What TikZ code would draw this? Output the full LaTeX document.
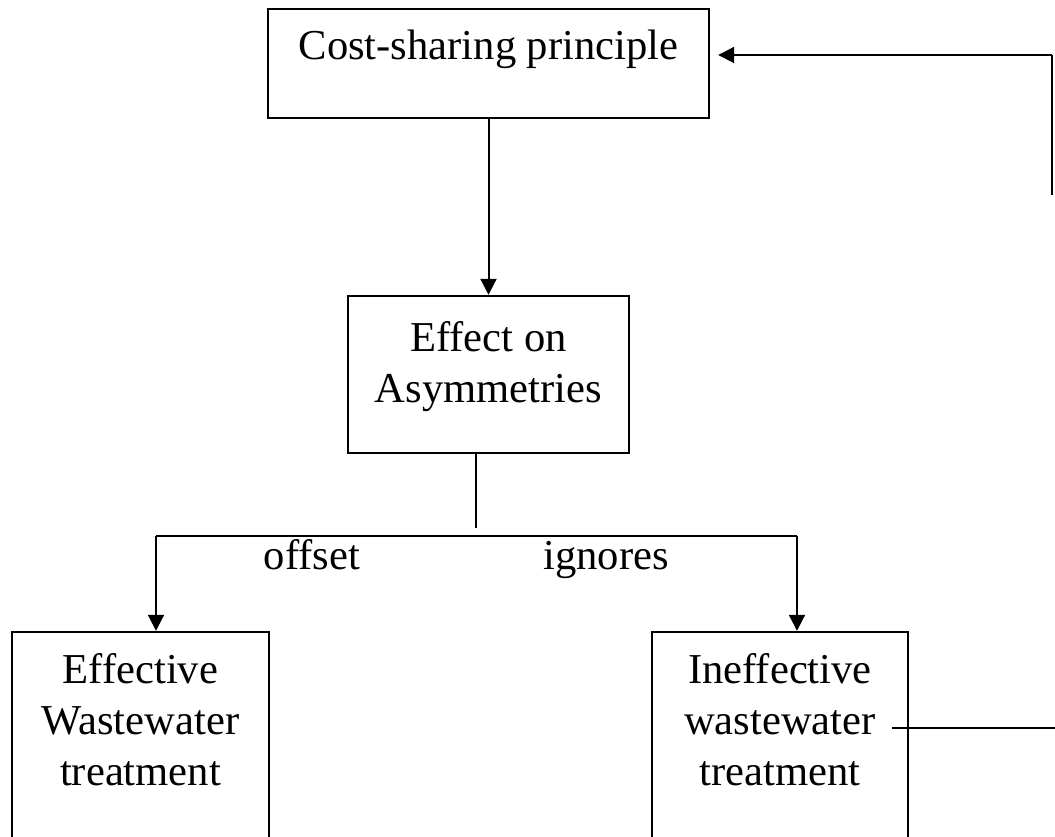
\documentclass[tikz,border=0pt]{standalone}
\usepackage{fontspec}
\setmainfont{Liberation Serif}
\usetikzlibrary{arrows.meta,calc}

\begin{document}
\begin{tikzpicture}[x=1pt,y=-1pt,
  box/.style={draw=black,line width=2.4pt,rectangle,inner sep=0pt},
  txt/.style={font=\fontsize{42.6}{51}\selectfont,align=center,anchor=base,inner sep=0pt},
  conn/.style={draw=black,line width=2pt},
  arr/.style={conn,-{Triangle[length=16pt,width=16pt]}}]
\useasboundingbox (0,0) rectangle (1055,837);
\clip (0,0) rectangle (1055,837);

% boxes
\node[box,minimum width=441pt,minimum height=109pt] (cost) at (488.5,63.5) {};
\node[box,minimum width=281pt,minimum height=157pt] (asym) at (488.5,374.5) {};
\node[box,minimum width=257pt,minimum height=268pt] (eff) at (140.5,766) {};
\node[box,minimum width=256pt,minimum height=268pt] (ineff) at (780,766) {};

% box texts (base anchor sits on the last line)
\node[txt] (costtxt) at (488.5,60) {Cost-sharing principle};
\node[txt] (asymtxt) at (488.5,402) {Effect on\\Asymmetries};
\node[txt] (efftxt) at (140.5,785) {Effective\\Wastewater\\treatment};
\node[txt] (inefftxt) at (780,785) {Ineffective\\wastewater\\treatment};

% branch labels
\node[txt] (offset) at (312,569) {offset};
\node[txt] (ignores) at (606,569) {ignores};

% junction points
\coordinate (stemtop) at (476,453);
\coordinate (stembot) at (476,528);
\coordinate (barL) at (156,536);
\coordinate (barR) at (797,536);
\coordinate (fbtop) at (1052,55);
\coordinate (fbmid) at (1052,195);
\coordinate (fbin) at (892,728);
\coordinate (fbout) at (1056,728);

% connectors
\draw[arr] (cost.south) -- (asym.north);
\draw[conn] (stemtop) -- (stembot);
\draw[conn] (barL) -- (barR);
\draw[arr] (barL) -- (barL |- eff.north);
\draw[arr] (barR) -- (barR |- ineff.north);
\draw[arr,shorten >=8pt] (fbtop) -- (fbtop -| cost.east);
\draw[conn] (fbtop) -- (fbmid);
\draw[conn] (fbin) -- (fbout);
\end{tikzpicture}
\end{document}
